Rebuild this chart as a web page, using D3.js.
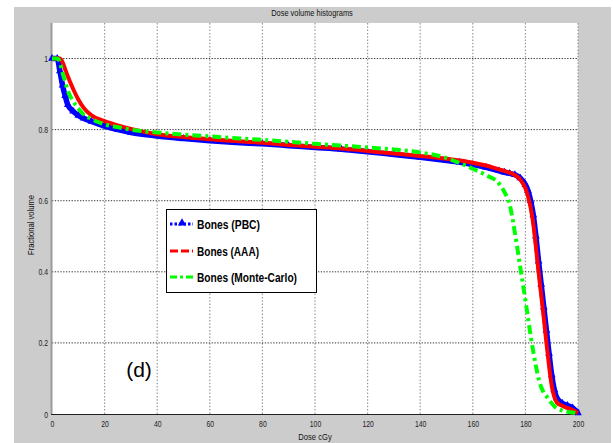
<!DOCTYPE html>
<html>
<head>
<meta charset="utf-8">
<script src="https://cdn.jsdelivr.net/npm/d3@7"></script>
<style>
  html, body { margin: 0; padding: 0; background: #ffffff; }
  svg { display: block; }
</style>
</head>
<body>
<svg id="chart" width="613" height="443"></svg>
<script>
// Dose grid (cGy) shared by all three dose-volume histograms
const dose = [0, 2, 3, 4, 5, 6, 8, 10, 12, 15, 20, 25, 30, 40, 50, 60, 70, 80, 90, 100,
  110, 120, 130, 140, 150, 155, 160, 165, 170, 172, 174, 176, 178, 180, 181, 182, 183,
  184, 185, 186, 187, 188, 189, 190, 191, 192, 194, 196, 198, 200];

// Fractional volume receiving at least the given dose
const bonesPBC = [1.0, 1.0, 0.965, 0.925, 0.895, 0.87, 0.852, 0.84, 0.832, 0.823, 0.81,
  0.8, 0.792, 0.782, 0.775, 0.769, 0.764, 0.76, 0.755, 0.75, 0.745, 0.738, 0.73, 0.722,
  0.713, 0.708, 0.702, 0.694, 0.684, 0.68, 0.677, 0.673, 0.664, 0.645, 0.628, 0.6, 0.56,
  0.5, 0.43, 0.365, 0.3, 0.235, 0.17, 0.11, 0.068, 0.045, 0.03, 0.024, 0.017, 0.003];

const bonesAAA = [1.0, 1.0, 1.0, 0.99, 0.97, 0.95, 0.915, 0.885, 0.862, 0.84, 0.824,
  0.812, 0.802, 0.787, 0.779, 0.773, 0.768, 0.763, 0.757, 0.752, 0.747, 0.74, 0.733,
  0.726, 0.718, 0.713, 0.707, 0.699, 0.688, 0.684, 0.679, 0.672, 0.66, 0.635, 0.612,
  0.58, 0.535, 0.47, 0.4, 0.335, 0.27, 0.2, 0.135, 0.08, 0.048, 0.032, 0.023, 0.017,
  0.011, 0.002];

const bonesMC = [1.0, 1.0, 0.99, 0.96, 0.935, 0.91, 0.88, 0.86, 0.843, 0.83, 0.815,
  0.807, 0.8, 0.792, 0.786, 0.781, 0.776, 0.771, 0.766, 0.76, 0.755, 0.75, 0.744,
  0.736, 0.72, 0.706, 0.69, 0.672, 0.648, 0.625, 0.59, 0.51, 0.415, 0.32, 0.27, 0.22,
  0.175, 0.135, 0.1, 0.076, 0.06, 0.05, 0.04, 0.03, 0.022, 0.016, 0.01, 0.006, 0.004,
  0.001];

const xTicks = [0, 20, 40, 60, 80, 100, 120, 140, 160, 180, 200];
const yTicks = [0, 0.2, 0.4, 0.6, 0.8, 1];
const seriesNames = ["Bones (PBC)", "Bones (AAA)", "Bones (Monte-Carlo)"];
const seriesColors = ["#0000ff", "#ff0000", "#00ff00"];

const svg = d3.select("#chart");
const W = 613, H = 443;
const plot = { left: 52, right: 578, top: 23, bottom: 414 };
const font = "'Liberation Sans', Arial, sans-serif";

// squeeze a text element horizontally (condensed look)
function condense(sel, k) {
  sel.each(function () {
    const w = this.getComputedTextLength();
    d3.select(this).attr("textLength", w * k).attr("lengthAdjust", "spacingAndGlyphs");
  });
}

// figure background
svg.append("rect").attr("x", 14).attr("y", 7).attr("width", 597).attr("height", H - 7)
  .attr("fill", "#cccccc");

const x = d3.scaleLinear().domain([0, 200]).range([plot.left, plot.right]);
const y = d3.scaleLinear().domain([0, 1.1]).range([plot.bottom, plot.top]);

// axes box
svg.append("rect").attr("x", plot.left).attr("y", plot.top)
  .attr("width", plot.right - plot.left).attr("height", plot.bottom - plot.top)
  .attr("fill", "#ffffff");

// grid
const grid = svg.append("g");
grid.selectAll("line.vg").data(xTicks.slice(1)).join("line")
  .attr("x1", d => x(d)).attr("x2", d => x(d))
  .attr("y1", plot.top).attr("y2", plot.bottom)
  .attr("stroke", "#9a9a9a").attr("stroke-width", 1.2)
  .attr("stroke-dasharray", "1.5,1.8");
grid.selectAll("line.hg").data(yTicks.slice(1)).join("line")
  .attr("x1", plot.left).attr("x2", plot.right)
  .attr("y1", d => y(d)).attr("y2", d => y(d))
  .attr("stroke", "#333333").attr("stroke-width", 1)
  .attr("stroke-dasharray", "1.3,1.5");

// left and bottom axis lines
svg.append("line").attr("x1", plot.left - 0.5).attr("x2", plot.left - 0.5)
  .attr("y1", plot.top).attr("y2", plot.bottom)
  .attr("stroke", "#9a9a9a").attr("stroke-width", 2);
svg.append("line").attr("x1", plot.left - 1).attr("x2", plot.right)
  .attr("y1", plot.bottom + 0.5).attr("y2", plot.bottom + 0.5)
  .attr("stroke", "#222222").attr("stroke-width", 1.2);

// tick labels via d3 axes
const xAxis = svg.append("g").attr("transform", `translate(0,${plot.bottom})`)
  .call(d3.axisBottom(x).tickValues(xTicks).tickSize(0).tickPadding(6)
    .tickFormat(d3.format("d")));
xAxis.select(".domain").remove();
xAxis.selectAll("text").attr("font-family", font).attr("font-size", 9.5)
  .attr("fill", "#222").call(condense, 0.72);

const yAxis = svg.append("g").attr("transform", `translate(${plot.left - 3},0)`)
  .call(d3.axisLeft(y).tickValues(yTicks).tickSize(0).tickPadding(1)
    .tickFormat(d => d === 0 || d === 1 ? String(d) : d3.format(".1f")(d)));
yAxis.select(".domain").remove();
yAxis.selectAll("text").attr("font-family", font).attr("font-size", 9.5)
  .attr("fill", "#222").call(condense, 0.72);

// titles
svg.append("text").attr("x", 312).attr("y", 16).attr("text-anchor", "middle")
  .attr("font-family", font).attr("font-size", 9.5).attr("fill", "#111")
  .text("Dose volume histograms").call(condense, 0.78);
svg.append("text").attr("x", 315).attr("y", 440).attr("text-anchor", "middle")
  .attr("font-family", font).attr("font-size", 9.5).attr("fill", "#111")
  .text("Dose cGy").call(condense, 0.8);
svg.append("text")
  .attr("transform", "translate(34,225) rotate(-90)")
  .attr("text-anchor", "middle")
  .attr("font-family", font).attr("font-size", 9.5).attr("fill", "#111")
  .text("Fractional volume").call(condense, 0.8);

// curves
const line = d3.line().x(d => x(d[0])).y(d => y(d[1])).curve(d3.curveMonotoneX);
const curves = svg.append("g");
const pbcPts = dose.map((d, i) => [d, bonesPBC[i]]);
const aaaPts = dose.map((d, i) => [d, bonesAAA[i]]);
const mcPts = dose.map((d, i) => [d, bonesMC[i]]);

curves.append("path").attr("d", line(pbcPts)).attr("fill", "none")
  .attr("stroke", seriesColors[0]).attr("stroke-width", 5.5).attr("stroke-linejoin", "round");
const tri = d3.symbol().type(d3.symbolTriangle).size(26);
curves.selectAll("path.mk").data(pbcPts).join("path")
  .attr("transform", d => `translate(${x(d[0])},${y(d[1])})`)
  .attr("d", tri).attr("fill", seriesColors[0]);

curves.append("path").attr("d", line(aaaPts)).attr("fill", "none")
  .attr("stroke", seriesColors[1]).attr("stroke-width", 4).attr("stroke-linejoin", "round");

curves.append("path").attr("d", line(mcPts)).attr("fill", "none")
  .attr("stroke", seriesColors[2]).attr("stroke-width", 4)
  .attr("stroke-dasharray", "9,4,3,4");

// panel label
svg.append("text").attr("x", 139).attr("y", 377).attr("text-anchor", "middle")
  .attr("font-family", font).attr("font-size", 21)
  .attr("fill", "#000").text("(d)");

// legend
const lg = svg.append("g");
lg.append("rect").attr("x", 166.5).attr("y", 209.5).attr("width", 150).attr("height", 83)
  .attr("fill", "#ffffff").attr("stroke", "#000").attr("stroke-width", 1);
const rows = [224, 251, 277];
const dashes = ["2.5,2", "8,3", "7,3,3,3"];
const labelWidths = [63, 62, 100];
seriesNames.forEach((name, i) => {
  lg.append("line").attr("x1", 170).attr("x2", 193).attr("y1", rows[i]).attr("y2", rows[i])
    .attr("stroke", seriesColors[i]).attr("stroke-width", 3)
    .attr("stroke-dasharray", dashes[i]);
  if (i === 0) {
    lg.append("path").attr("transform", `translate(182,${rows[i] - 1})`)
      .attr("d", d3.symbol().type(d3.symbolTriangle).size(30)).attr("fill", seriesColors[0]);
  }
  lg.append("text").attr("x", 197).attr("y", rows[i] + 4.5)
    .attr("font-family", font).attr("font-weight", "bold").attr("font-size", 12.5)
    .attr("textLength", labelWidths[i]).attr("lengthAdjust", "spacingAndGlyphs")
    .attr("fill", "#000").text(name);
});
</script>
</body>
</html>
